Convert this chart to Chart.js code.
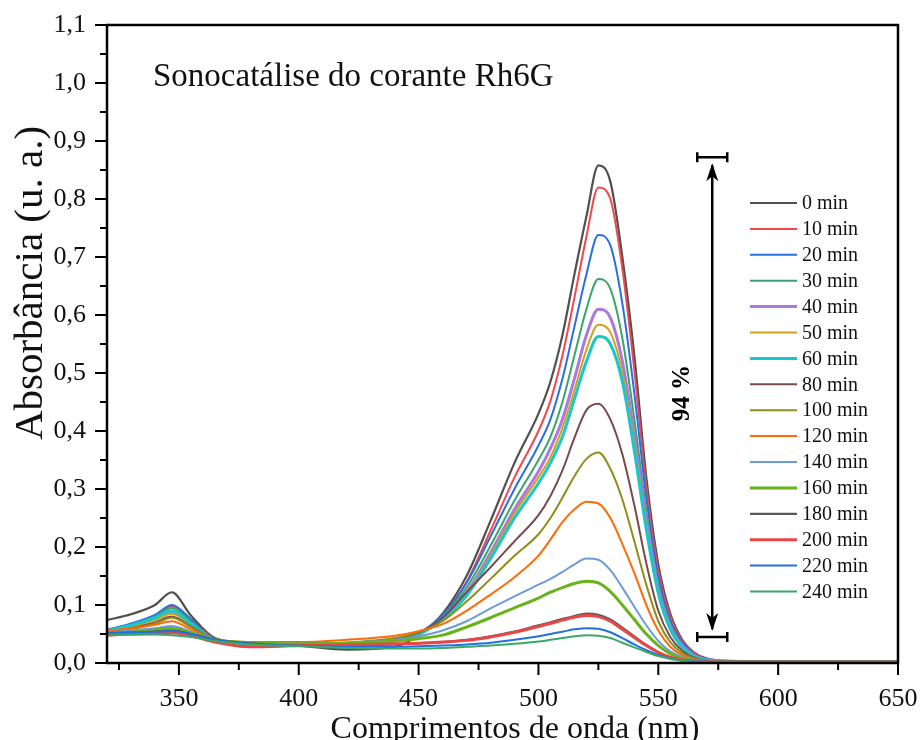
<!DOCTYPE html>
<html lang="pt">
<head>
<meta charset="UTF-8">
<title>Sonocatálise do corante Rh6G</title>
<script src="https://cdn.jsdelivr.net/npm/chart.js"></script>
<style>
    html, body { margin: 0; padding: 0; background: #fff; }
</style>
</head>
<body>
<canvas id="uvChart" width="921" height="740"></canvas>
<script>
// comprimentos de onda (nm) comuns a todas as curvas
const wavelengths = [320, 330, 340, 347, 355, 365, 380, 400, 420, 440, 450, 460, 470, 480, 490, 500, 505, 510, 515, 520, 525, 530, 535, 540, 545, 550, 555, 560, 565, 570, 580, 600, 650];

const seriesLabels = ['0 min', '10 min', '20 min', '30 min', '40 min', '50 min', '60 min', '80 min', '100 min', '120 min', '140 min', '160 min', '180 min', '200 min', '220 min', '240 min'];
const seriesColors = ['#505050', '#f0484c', '#2a6fe0', '#3aa56a', '#ab78dc', '#d2a01c', '#16c8cc', '#7a4a4a', '#8e8e1c', '#ff6a08', '#6c9cd6', '#68b21a', '#5a5a5a', '#ea4646', '#2070e2', '#3aa86a'];
const seriesWidths = [2.2, 2, 2, 2, 3, 2, 3, 2, 2, 2, 2, 3, 2.2, 3, 2, 2];

// absorbância
const abs0   = [.074, .084, .100, .122, .082, .043, .034, .030, .023, .028, .048, .085, .150, .245, .345, .430, .485, .565, .670, .770, .858, .830, .700, .530, .320, .170, .085, .040, .018, .008, .003, .002, .002];
const abs10  = [.058, .066, .080, .098, .075, .040, .028, .030, .032, .038, .050, .082, .140, .228, .320, .400, .452, .530, .630, .735, .820, .800, .680, .505, .305, .160, .080, .038, .017, .007, .003, .002, .002];
const abs20  = [.057, .068, .083, .100, .076, .040, .033, .032, .032, .040, .052, .083, .138, .218, .300, .375, .420, .490, .580, .670, .738, .720, .620, .465, .285, .148, .073, .035, .015, .007, .003, .002, .002];
const abs30  = [.055, .065, .080, .095, .072, .040, .034, .032, .033, .040, .051, .080, .130, .202, .280, .350, .390, .450, .530, .610, .662, .645, .560, .420, .262, .136, .067, .032, .014, .006, .003, .002, .002];
const abs40  = [.055, .063, .076, .088, .068, .040, .034, .032, .033, .040, .050, .077, .122, .190, .265, .330, .370, .420, .490, .565, .610, .595, .520, .392, .246, .128, .063, .030, .013, .006, .003, .002, .002];
const abs50  = [.054, .062, .074, .085, .066, .040, .034, .032, .033, .040, .050, .076, .119, .185, .258, .320, .355, .405, .470, .540, .583, .570, .500, .376, .236, .122, .060, .028, .012, .005, .003, .002, .002];
const abs60  = [.056, .065, .078, .090, .068, .040, .034, .033, .034, .041, .050, .075, .116, .180, .250, .310, .345, .390, .455, .520, .563, .550, .485, .366, .230, .120, .058, .027, .011, .005, .003, .002, .002];
const abs80  = [.054, .060, .070, .080, .063, .040, .034, .032, .034, .042, .052, .078, .122, .165, .210, .255, .288, .332, .388, .436, .447, .420, .360, .272, .172, .090, .045, .021, .009, .004, .003, .002, .002];
const abs100 = [.052, .058, .068, .078, .062, .040, .034, .032, .035, .043, .053, .072, .106, .145, .185, .222, .250, .285, .322, .352, .363, .335, .282, .210, .135, .072, .036, .017, .008, .004, .003, .002, .002];
const abs120 = [.055, .060, .066, .072, .058, .040, .036, .036, .040, .047, .055, .067, .090, .118, .148, .185, .213, .243, .265, .278, .275, .250, .205, .155, .100, .056, .028, .013, .006, .003, .002, .002, .002];
const abs140 = [.052, .056, .060, .064, .054, .040, .035, .033, .035, .040, .046, .056, .072, .094, .115, .135, .145, .157, .170, .180, .178, .160, .130, .097, .065, .038, .020, .010, .005, .003, .002, .002, .002];
const abs160 = [.050, .053, .057, .060, .052, .040, .035, .033, .034, .038, .042, .048, .062, .078, .095, .112, .122, .130, .137, .141, .138, .123, .100, .075, .050, .030, .016, .008, .004, .002, .002, .002, .002];
const abs180 = [.050, .052, .054, .056, .050, .040, .034, .030, .030, .032, .034, .036, .040, .046, .054, .065, .070, .076, .081, .085, .083, .075, .061, .046, .031, .019, .010, .005, .003, .002, .002, .002, .002];
const abs200 = [.048, .050, .051, .052, .047, .036, .028, .030, .031, .033, .034, .036, .039, .045, .053, .063, .068, .074, .079, .082, .080, .072, .058, .044, .030, .018, .010, .005, .003, .002, .002, .002, .002];
const abs220 = [.052, .053, .054, .055, .050, .040, .033, .030, .028, .028, .029, .030, .032, .035, .040, .046, .050, .054, .058, .060, .059, .053, .043, .032, .022, .014, .008, .004, .003, .002, .002, .002, .002];
const abs240 = [.048, .049, .049, .048, .045, .038, .032, .029, .026, .025, .025, .026, .028, .030, .033, .037, .040, .043, .046, .048, .047, .043, .035, .027, .019, .012, .007, .004, .002, .002, .002, .002, .002];

const allSeries = [abs0, abs10, abs20, abs30, abs40, abs50, abs60, abs80, abs100, abs120, abs140, abs160, abs180, abs200, abs220, abs240];

const xTicks = [350, 400, 450, 500, 550, 600, 650];
const xMinorTicks = [325, 375, 425, 475, 525, 575, 625];
const yTicks = [0, 0.1, 0.2, 0.3, 0.4, 0.5, 0.6, 0.7, 0.8, 0.9, 1.0, 1.1];
const yMinorTicks = [0.05, 0.15, 0.25, 0.35, 0.45, 0.55, 0.65, 0.75, 0.85, 0.95, 1.05];

const chartTitle = 'Sonocatálise do corante Rh6G';
const xTitle = 'Comprimentos de onda (nm)';
const yTitle = 'Absorbância (u. a.)';

// seta de redução (nm, absorbância)
const arrowX = 572.5;
const arrowBottom = 0.045;
const arrowTop = 0.872;
const arrowText = '94 %';

const serif = "'Liberation Serif', 'Times New Roman', serif";

const datasets = allSeries.map((vals, k) => ({
    label: seriesLabels[k],
    data: wavelengths.map((w, i) => ({ x: w, y: vals[i] })),
    borderColor: seriesColors[k],
    borderWidth: seriesWidths[k],
    pointRadius: 0,
    fill: false,
    cubicInterpolationMode: 'monotone',
    order: allSeries.length - k
}));

const decorations = {
    id: 'decorations',
    afterDraw(chart) {
        const ctx = chart.ctx;
        const a = chart.chartArea;
        const xs = chart.scales.x;
        const ys = chart.scales.y;
        ctx.save();

        // moldura
        ctx.strokeStyle = '#000';
        ctx.lineWidth = 2.5;
        ctx.strokeRect(a.left, a.top, a.right - a.left, a.bottom - a.top);

        // marcas dos eixos (para fora)
        ctx.lineWidth = 2;
        ctx.beginPath();
        xTicks.forEach(v => { const p = xs.getPixelForValue(v); ctx.moveTo(p, a.bottom); ctx.lineTo(p, a.bottom + 12); });
        xMinorTicks.forEach(v => { const p = xs.getPixelForValue(v); ctx.moveTo(p, a.bottom); ctx.lineTo(p, a.bottom + 7); });
        yTicks.forEach(v => { const p = ys.getPixelForValue(v); ctx.moveTo(a.left, p); ctx.lineTo(a.left - 12, p); });
        yMinorTicks.forEach(v => { const p = ys.getPixelForValue(v); ctx.moveTo(a.left, p); ctx.lineTo(a.left - 7, p); });
        ctx.stroke();

        // títulos dos eixos
        ctx.fillStyle = '#111';
        ctx.font = '32px ' + serif;
        ctx.textAlign = 'center';
        ctx.textBaseline = 'alphabetic';
        ctx.fillText(xTitle, 515, 738);
        ctx.save();
        ctx.translate(42, 283);
        ctx.rotate(-Math.PI / 2);
        ctx.font = '41px ' + serif;
        ctx.fillText(yTitle, 0, 0);
        ctx.restore();

        // título interno
        ctx.textAlign = 'left';
        ctx.textBaseline = 'middle';
        ctx.font = '33px ' + serif;
        ctx.fillText(chartTitle, a.left + 46, a.top + 52);

        // legenda
        ctx.font = '20px ' + serif;
        seriesLabels.forEach((lab, k) => {
            const y = a.top + 178 + k * 25.9;
            ctx.strokeStyle = seriesColors[k];
            ctx.lineWidth = seriesWidths[k];
            ctx.beginPath();
            ctx.moveTo(a.left + 643, y);
            ctx.lineTo(a.left + 690, y);
            ctx.stroke();
            ctx.fillStyle = '#111';
            ctx.fillText(lab, a.left + 695, y + 1);
        });

        // seta 94 %
        const ax = xs.getPixelForValue(arrowX);
        const yb = ys.getPixelForValue(arrowBottom);
        const yt = ys.getPixelForValue(arrowTop);
        ctx.strokeStyle = '#000';
        ctx.fillStyle = '#000';
        ctx.lineWidth = 2.5;
        ctx.beginPath();
        ctx.moveTo(ax, yt + 8); ctx.lineTo(ax, yb - 8);
        ctx.moveTo(ax - 15, yt); ctx.lineTo(ax + 15, yt);
        ctx.moveTo(ax - 15, yb); ctx.lineTo(ax + 15, yb);
        ctx.moveTo(ax - 15, yt - 5); ctx.lineTo(ax - 15, yt + 5);
        ctx.moveTo(ax + 15, yt - 5); ctx.lineTo(ax + 15, yt + 5);
        ctx.moveTo(ax - 15, yb - 5); ctx.lineTo(ax - 15, yb + 5);
        ctx.moveTo(ax + 15, yb - 5); ctx.lineTo(ax + 15, yb + 5);
        ctx.stroke();
        ctx.beginPath();
        ctx.moveTo(ax, yt + 6); ctx.lineTo(ax - 6, yt + 24); ctx.lineTo(ax, yt + 19); ctx.lineTo(ax + 6, yt + 24); ctx.closePath();
        ctx.moveTo(ax, yb - 6); ctx.lineTo(ax - 6, yb - 24); ctx.lineTo(ax, yb - 19); ctx.lineTo(ax + 6, yb - 24); ctx.closePath();
        ctx.fill();

        ctx.save();
        ctx.translate(ax - 30, (yt + yb) / 2 - 4);
        ctx.rotate(-Math.PI / 2);
        ctx.font = 'bold 25px ' + serif;
        ctx.textAlign = 'center';
        ctx.textBaseline = 'middle';
        ctx.fillText(arrowText, 0, 0);
        ctx.restore();

        ctx.restore();
    }
};

new Chart(document.getElementById('uvChart').getContext('2d'), {
    type: 'line',
    data: { datasets: datasets },
    options: {
        responsive: false,
        animation: false,
        layout: { padding: { top: 25, right: 23, left: 0, bottom: 0 } },
        plugins: { legend: { display: false }, tooltip: { enabled: false } },
        scales: {
            x: {
                type: 'linear',
                min: 320,
                max: 650,
                afterBuildTicks: s => { s.ticks = xTicks.map(v => ({ value: v })); },
                afterFit: s => { s.height = 77; },
                grid: { display: true, drawOnChartArea: false, drawTicks: true, tickLength: 19, tickColor: 'rgba(0,0,0,0)' },
                border: { display: false },
                ticks: { font: { family: serif, size: 26 }, color: '#111', padding: 2, maxRotation: 0 }
            },
            y: {
                min: 0,
                max: 1.1,
                afterBuildTicks: s => { s.ticks = yTicks.map(v => ({ value: v })); },
                afterFit: s => { s.width = 107; },
                grid: { display: true, drawOnChartArea: false, drawTicks: true, tickLength: 19, tickColor: 'rgba(0,0,0,0)' },
                border: { display: false },
                ticks: {
                    font: { family: serif, size: 26 },
                    color: '#111',
                    padding: 2,
                    callback: v => v.toFixed(1).replace('.', ',')
                }
            }
        }
    },
    plugins: [decorations]
});
</script>
</body>
</html>
